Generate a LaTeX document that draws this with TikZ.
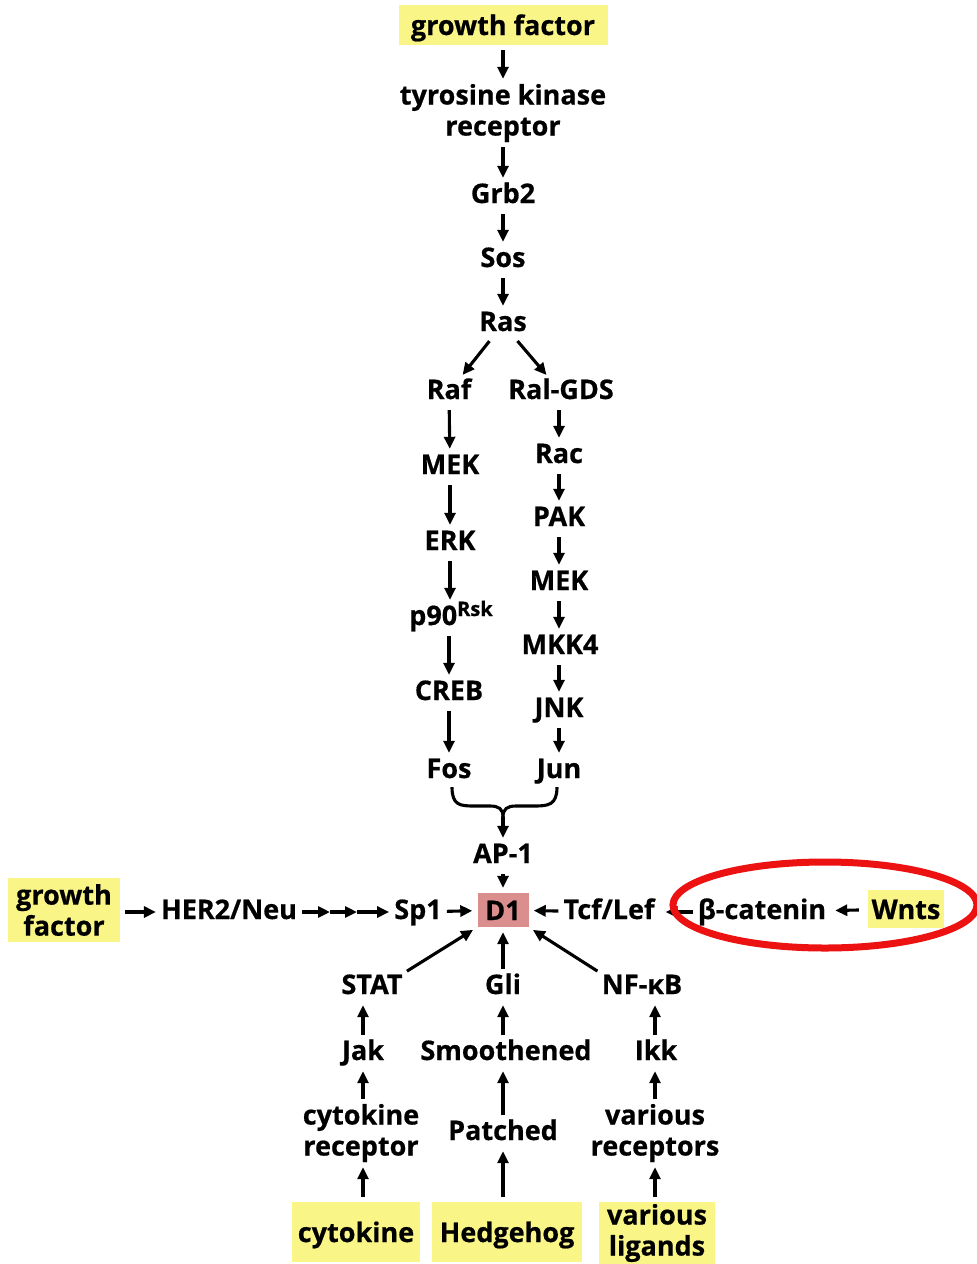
\documentclass[tikz,border=0pt]{standalone}
\usepackage{fontspec}
\setmainfont{Open Sans}[BoldFeatures={FakeBold=0.6}]
\usetikzlibrary{arrows.meta}
\definecolor{hilite}{RGB}{250,245,135}
\definecolor{dpink}{RGB}{219,142,142}
\definecolor{ringred}{RGB}{236,18,18}

\begin{document}
\begin{tikzpicture}[x=1pt,y=-1pt,
  lbl/.style={font=\bfseries\fontsize{27}{31}\selectfont, inner sep=0pt,
              text height=20pt, text depth=6pt, yshift=-3pt},
  mlbl/.style={font=\bfseries\fontsize{27}{31}\selectfont, inner sep=0pt, align=center, yshift=-3pt},
  ybox/.style={fill=hilite},
  blbl/.style={font=\bfseries\fontsize{27}{31}\selectfont, inner sep=0pt,
              text height=20pt, text depth=0pt},
  mblbl/.style={font=\bfseries\fontsize{27}{31}\selectfont, inner sep=0pt, align=center},
  arr/.style={line width=3.1pt, -{Triangle[length=12pt,width=11pt]},
              shorten <=5pt, shorten >=5pt},
  brace/.style={line width=3.1pt}
]
\useasboundingbox (0,0) rectangle (977,1264);

% main vertical cascade
\node[blbl, ybox, minimum width=209pt, minimum height=40pt] (gfTop) at (503,25) {growth factor};
\node[mlbl] (tkr) at (503,110) {tyrosine kinase\\receptor};
\node[lbl] (Grb2) at (503,193) {Grb2};
\node[lbl] (Sos) at (503,257) {Sos};
\node[lbl] (Ras) at (503,321) {Ras};

% left branch
\node[lbl] (Raf) at (449,389) {Raf};
\node[lbl] (MEKl) at (450,464) {MEK};
\node[lbl] (ERK) at (450,540) {ERK};
\node[lbl] (p90) at (451,615) {p90\raisebox{9pt}{\fontsize{20}{21}\selectfont Rsk}};
\node[lbl] (CREB) at (449,690) {CREB};
\node[lbl] (Fos) at (449,768) {Fos};

% right branch
\node[lbl] (RalGDS) at (561,389) {Ral-GDS};
\node[lbl] (Rac) at (559,453) {Rac};
\node[lbl] (PAK) at (559,516) {PAK};
\node[lbl] (MEKr) at (559,580) {MEK};
\node[lbl] (MKK4) at (560,644) {MKK4};
\node[lbl] (JNK) at (559,707) {JNK};
\node[lbl] (Jun) at (559,768) {Jun};

\node[lbl] (AP1) at (503,853) {AP-1};

% central row
\node[blbl, fill=dpink, minimum width=51pt, minimum height=34pt] (D1) at (503,910) {D1};
\node[lbl] (Sp1) at (418,909) {Sp1};
\node[lbl] (HER) at (229,909) {HER2/Neu};
\node[mblbl, ybox, minimum width=112pt, minimum height=64pt] (gfLeft) at (64,910) {growth\\factor};
\node[lbl] (Tcf) at (609,909) {Tcf/Lef};
\node[lbl] (bcat) at (762,909) {β-catenin};
\node[blbl, ybox, minimum width=76pt, minimum height=38pt] (Wnts) at (906,909) {Wnts};

% lower branches
\node[lbl] (STAT) at (372,984) {STAT};
\node[lbl] (Gli) at (503,984) {Gli};
\node[lbl] (NFkB) at (642,984) {NF-κB};
\node[lbl] (Jak) at (363,1050) {Jak};
\node[lbl] (Smo) at (506,1050) {Smoothened};
\node[lbl] (Ikk) at (656,1050) {Ikk};
\node[mlbl] (cytr) at (361,1130) {cytokine\\receptor};
\node[lbl] (Patched) at (503,1130) {Patched};
\node[mlbl] (varrec) at (655,1130) {various\\receptors};
\node[blbl, ybox, minimum width=128pt, minimum height=60pt] (cyt) at (356,1232) {cytokine};
\node[blbl, ybox, minimum width=150pt, minimum height=60pt] (hh) at (507,1232) {Hedgehog};
\node[mblbl, ybox, minimum width=116pt, minimum height=62pt] (lig) at (657,1233) {various\\ligands};

% connectors: top cascade
\draw[arr] (gfTop) -- (tkr);
\draw[arr] (tkr) -- (Grb2);
\draw[arr] (Grb2) -- (Sos);
\draw[arr] (Sos) -- (Ras);
\draw[arr] (Ras) -- (Raf);
\draw[arr] (Ras) -- (RalGDS);
\draw[arr] (Raf) -- (MEKl);
\draw[arr] (MEKl) -- (ERK);
\draw[arr] (ERK) -- (p90.north -| ERK);
\draw[arr] (p90.south -| CREB) -- (CREB);
\draw[arr] (CREB) -- (Fos);
\draw[arr] (RalGDS.south -| Rac) -- (Rac);
\draw[arr] (Rac) -- (PAK);
\draw[arr] (PAK) -- (MEKr);
\draw[arr] (MEKr) -- (MKK4.north -| MEKr);
\draw[arr] (MKK4.south -| JNK) -- (JNK);
\draw[arr] (JNK) -- (Jun);

% Fos and Jun join into AP-1
\coordinate (bj) at (503,817);
\draw[brace] ([xshift=3pt,yshift=-3pt]Fos.south) .. controls +(0,18) and +(-14,0) .. (474,806)
  -- (490,806) .. controls +(9,0) and +(0,-8) .. (bj);
\draw[brace] ([xshift=-2pt,yshift=-3pt]Jun.south) .. controls +(0,18) and +(14,0) .. (534,806)
  -- (516,806) .. controls +(-9,0) and +(0,-8) .. (bj);
\draw[arr, shorten <=0pt] (bj) -- (AP1);
\draw[arr] (AP1) -- (D1);

% central row
\coordinate (h1) at (330,912);
\coordinate (h2) at (357,912);
\draw[arr] (gfLeft.east |- HER) -- (HER);
\draw[arr, shorten >=0pt] (HER) -- (h1);
\draw[arr, shorten <=0pt, shorten >=0pt] (h1) -- (h2);
\draw[arr, shorten <=0pt] (h2) -- (Sp1);
\draw[arr] (Sp1) -- (D1);
\draw[arr] (Tcf) -- (D1);
\draw[arr, shorten >=11pt] (bcat) -- (Tcf);
\draw[arr, shorten <=9pt, shorten >=9pt] (Wnts) -- (bcat);

% lower branches
\draw[arr] (STAT.north east) -- (D1.south west);
\draw[arr] (Gli) -- (D1);
\draw[arr] (NFkB.north west) -- (D1.south east);
\draw[arr] (Jak.north) -- (Jak.north |- STAT.south);
\draw[arr] (Smo.north -| Gli) -- (Gli);
\draw[arr] (Ikk.north -| varrec) -- (varrec.north |- NFkB.south);
\draw[arr] (cytr.north -| Jak) -- (Jak);
\draw[arr] (Patched.north -| Gli) -- (Smo.south -| Gli);
\draw[arr] (varrec.north) -- (varrec.north |- Ikk.south);
\draw[arr] (cyt.north -| Jak) -- (cytr.south -| Jak);
\draw[arr] (hh.north -| Gli) -- (Patched.south -| Gli);
\draw[arr] (lig.north -| varrec) -- (varrec.south);

% highlight ring
\draw[ringred, line width=7pt] (825,905) ellipse [x radius=152pt, y radius=43pt];
\end{tikzpicture}
\end{document}
